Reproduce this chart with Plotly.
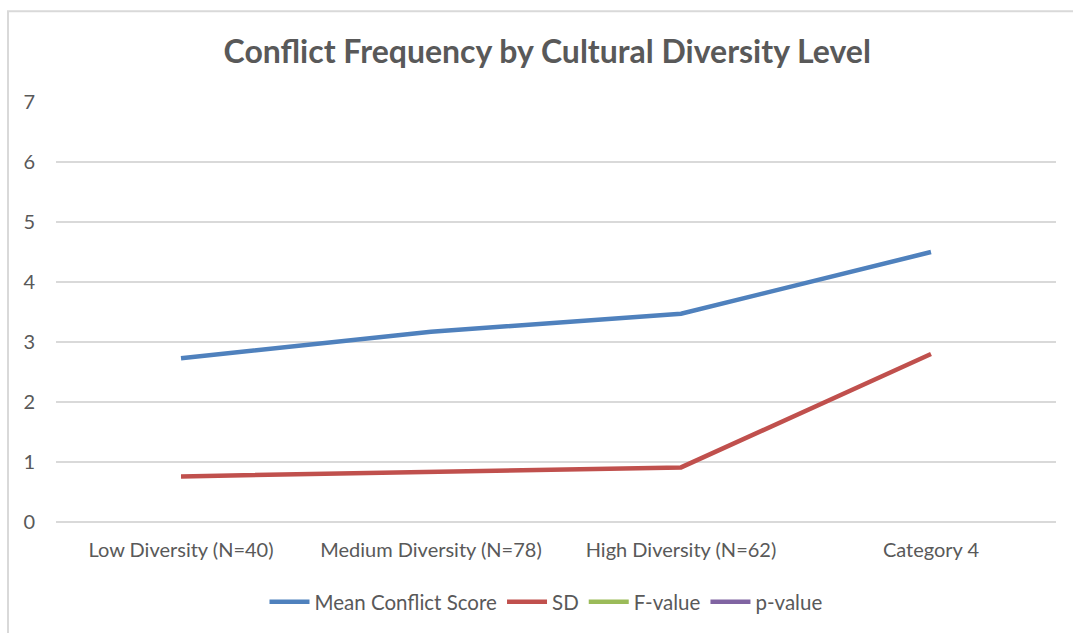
import plotly.graph_objects as go

categories = ["Low Diversity (N=40)", "Medium Diversity (N=78)", "High Diversity (N=62)", "Category 4"]
mean_conflict = [2.73, 3.17, 3.47, 4.5]
sd_values = [0.76, 0.83, 0.91, 2.8]
f_values = [None, None, None, None]
p_values = [None, None, None, None]

series = [
    ("Mean Conflict Score", mean_conflict, "#4F81BD"),
    ("SD", sd_values, "#C0504D"),
    ("F-value", f_values, "#9BBB59"),
    ("p-value", p_values, "#8064A2"),
]

FONT = "Lato"
GREY = "#595959"

fig = go.Figure()
for name, vals, col in series:
    fig.add_trace(go.Scatter(
        x=categories, y=vals, name=name, mode="lines",
        line=dict(color=col, width=4.5),
    ))

fig.update_layout(
    width=1073, height=633,
    paper_bgcolor="white", plot_bgcolor="white",
    margin=dict(l=56, r=17, t=102, b=110),
    title=dict(
        text="<b>Conflict Frequency by Cultural Diversity Level</b>",
        x=0.51, xanchor="center", y=1 - 52 / 633, yanchor="middle",
        font=dict(family=FONT, size=32, color=GREY),
    ),
    xaxis=dict(
        type="category", range=[-0.5, 3.5], showgrid=False, zeroline=False,
        showline=False, ticks="", ticklabelstandoff=14,
        tickfont=dict(family=FONT, size=20, color=GREY),
    ),
    yaxis=dict(
        range=[0, 7], dtick=1, showgrid=True, gridcolor="#d9d9d9", gridwidth=1.5,
        zeroline=True, zerolinecolor="#d9d9d9", zerolinewidth=1.5,
        showline=False, ticks="", ticklabelstandoff=20,
        tickfont=dict(family=FONT, size=20, color=GREY),
    ),
    legend=dict(
        orientation="h", x=0.49, xanchor="center", y=(523 - 602) / 421, yanchor="middle",
        font=dict(family=FONT, size=20.5, color=GREY), itemwidth=40,
        traceorder="normal",
    ),
    showlegend=True,
    shapes=[dict(
        type="rect", xref="paper", yref="paper",
        x0=(8 - 56) / 1000, x1=1.2, y0=-0.5, y1=(523 - 11) / 421,
        line=dict(color="#d9d9d9", width=2), fillcolor="rgba(0,0,0,0)", layer="below",
    )],
)

fig.write_html("out.html")
